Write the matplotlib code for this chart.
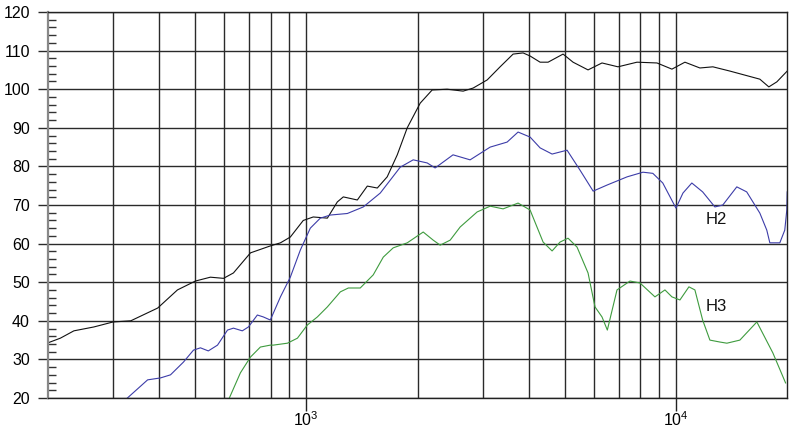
import matplotlib.pyplot as plt
from matplotlib.ticker import FixedLocator, FixedFormatter, MultipleLocator, NullFormatter

plt.rcParams['font.family'] = ['Liberation Sans', 'DejaVu Sans']
plt.rcParams['mathtext.fontset'] = 'custom'
plt.rcParams['mathtext.rm'] = 'Liberation Sans'

# fundamental response (black)
f_main = [200, 216, 235, 266, 300, 335, 396, 448, 501, 550, 597, 635, 706, 799, 851, 905,
          981, 1044, 1140, 1213, 1259, 1374, 1462, 1556, 1655, 1762, 1875, 2033, 2190, 2405,
          2656, 2827, 3085, 3344, 3626, 3859, 4031, 4290, 4509, 4950, 5268, 5783, 6309, 6970,
          7845, 8885, 9753, 10575, 11610, 12588, 13993, 16866, 17837, 18748, 20000]
db_main = [34.3, 35.5, 37.4, 38.4, 39.7, 40.0, 43.3, 48.0, 50.3, 51.3, 51.0, 52.4, 57.6, 59.4, 60.2, 61.7,
           66.0, 66.9, 66.6, 70.8, 72.1, 71.3, 74.9, 74.4, 77.3, 83.0, 90.0, 96.4, 99.8, 100.0,
           99.5, 100.3, 102.4, 105.8, 109.1, 109.4, 108.6, 107.0, 107.0, 109.1, 107.0, 105.0, 106.8, 105.8,
           107.0, 106.8, 105.2, 107.0, 105.5, 105.8, 104.7, 102.6, 100.6, 101.9, 104.7]

# 2nd harmonic (blue)
f_h2 = [328, 372, 403, 429, 465, 495, 517, 543, 575, 612, 635, 671, 697, 737, 765, 799,
        851, 905, 963, 1025, 1091, 1161, 1291, 1426, 1585, 1795, 1946, 2123, 2231, 2494,
        2774, 3143, 3493, 3740, 4031, 4290, 4623, 5075, 5504, 5970, 6522, 7379, 8143, 8660,
        9213, 10000, 10447, 11040, 11810, 12745, 13390, 14610, 15540, 16866, 17610, 17950,
        19100, 19700, 19950, 20000]
db_h2 = [20.0, 24.7, 25.2, 26.0, 29.3, 32.4, 33.0, 32.2, 33.7, 37.6, 38.1, 37.4, 38.4, 41.5, 41.0, 40.2,
         46.2, 51.3, 58.3, 64.0, 66.6, 67.4, 67.8, 69.5, 73.1, 79.8, 81.7, 80.9, 79.6, 83.0,
         81.7, 85.0, 86.3, 88.9, 87.6, 84.8, 83.2, 84.2, 79.0, 73.6, 75.2, 77.3, 78.5, 78.2,
         75.7, 69.2, 73.1, 75.7, 73.4, 69.5, 70.0, 74.7, 73.4, 67.9, 63.5, 60.2,
         60.2, 63.5, 68.7, 73.4]

# 3rd harmonic (green)
f_h3 = [619, 663, 706, 751, 799, 814, 889, 946, 1006, 1071, 1140, 1236, 1299, 1399, 1517,
        1615, 1718, 1875, 2071, 2204, 2302, 2450, 2607, 2898, 3143, 3407, 3740, 4031, 4371,
        4623, 4858, 5106, 5400, 5783, 6040, 6309, 6522, 6927, 7510, 7993, 8774, 9339, 9753,
        10252, 10842, 11254, 11810, 12356, 13149, 13735, 14893, 16555, 18287, 19800]
db_h3 = [20.0, 26.5, 30.6, 33.2, 33.7, 33.7, 34.2, 35.5, 38.9, 41.0, 43.6, 47.5, 48.5, 48.5, 51.9,
         56.5, 58.9, 60.2, 63.0, 60.9, 59.6, 60.9, 64.3, 68.2, 69.7, 69.0, 70.5, 68.7, 60.4,
         58.1, 60.4, 61.4, 59.1, 52.4, 43.6, 41.0, 37.6, 48.0, 50.3, 49.8, 46.2, 48.0, 46.2,
         45.4, 48.8, 48.0, 40.2, 35.0, 34.5, 34.2, 35.0, 39.7, 31.7, 23.9]

x_major = [1000, 10000]
x_major_labels = [r'$\mathregular{10^{3}}$', r'$\mathregular{10^{4}}$']
x_grid = [300, 400, 500, 600, 700, 800, 900, 1000, 2000, 3000, 4000, 5000, 6000, 7000,
          8000, 9000, 10000]

fig = plt.figure(figsize=(8, 4.32), dpi=100)
ax = fig.add_axes([0.06, 0.0787, 0.924, 0.8935])

ax.plot(f_main, db_main, color='#111111', lw=0.8)
ax.plot(f_h2, db_h2, color='#3c3ca8', lw=0.8)
ax.plot(f_h3, db_h3, color='#3e9b3e', lw=0.8)

ax.set_xscale('log')
ax.set_xlim(200, 20000)
ax.set_ylim(20, 120)

for xv in x_grid:
    ax.axvline(xv, color='#2a2a2a', lw=1.0, zorder=0)
ax.yaxis.set_major_locator(MultipleLocator(10))
ax.yaxis.set_minor_locator(MultipleLocator(2))
ax.grid(axis='y', which='major', color='#2a2a2a', lw=1.0, zorder=0)

ax.xaxis.set_major_locator(FixedLocator(x_major))
ax.xaxis.set_major_formatter(FixedFormatter(x_major_labels))
ax.xaxis.set_minor_locator(FixedLocator([]))
ax.xaxis.set_minor_formatter(NullFormatter())
ax.tick_params(axis='x', which='major', direction='out', length=9, width=1.0,
               color='#222222', labelsize=11.5, pad=0)
ax.tick_params(axis='y', which='major', direction='out', length=7, width=1.0,
               color='#2a2a2a', labelsize=11.5, pad=6)
ax.tick_params(axis='y', which='minor', direction='in', length=6, width=1.0, color='#333333')

for side in ['top', 'bottom', 'right']:
    ax.spines[side].set_color('#222222')
    ax.spines[side].set_linewidth(1.0)
ax.spines['left'].set_color('#888888')
ax.spines['left'].set_linewidth(1.6)

ax.text(12000, 66.3, 'H2', fontsize=12, va='center', ha='left', color='#111111')
ax.text(12000, 43.8, 'H3', fontsize=12, va='center', ha='left', color='#111111')

fig.savefig('out.png', dpi=100, facecolor='white')
